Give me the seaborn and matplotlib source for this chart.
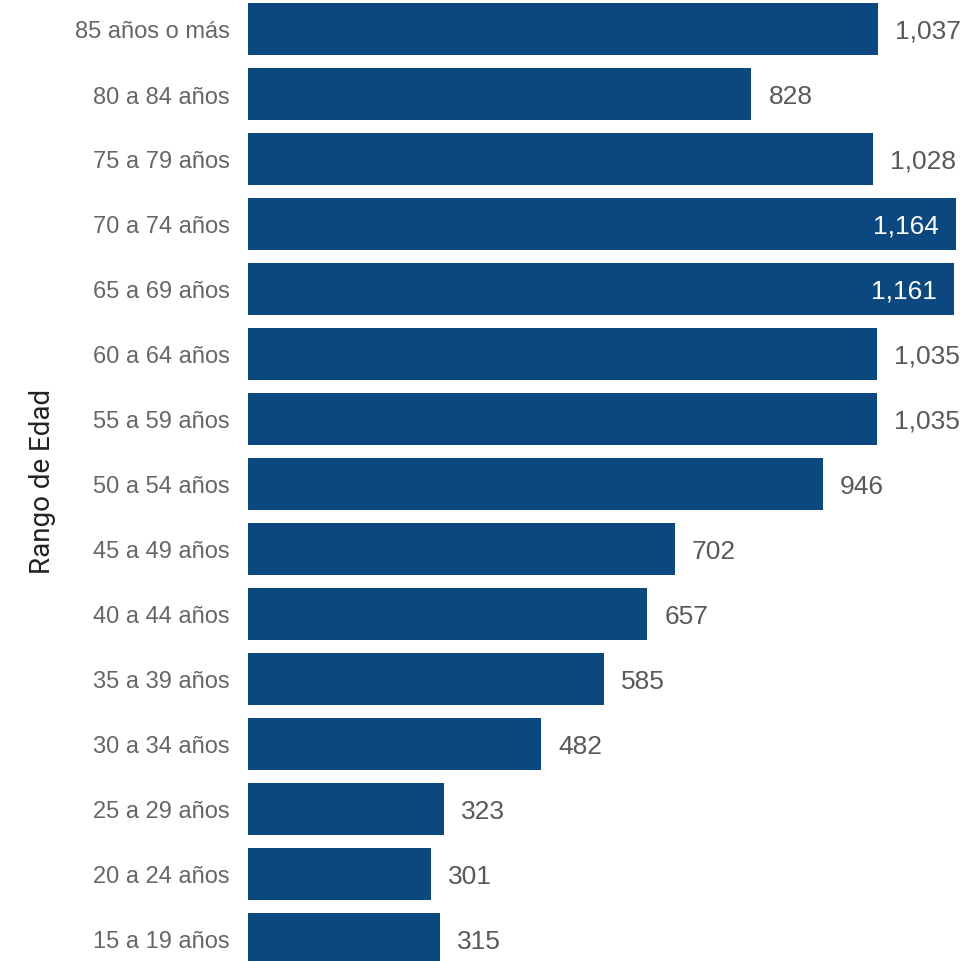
import matplotlib
matplotlib.use("Agg")
import matplotlib.pyplot as plt
import seaborn as sns
import pandas as pd

# Datos (de arriba a abajo)
rangos = ["85 años o más", "80 a 84 años", "75 a 79 años", "70 a 74 años",
          "65 a 69 años", "60 a 64 años", "55 a 59 años", "50 a 54 años",
          "45 a 49 años", "40 a 44 años", "35 a 39 años", "30 a 34 años",
          "25 a 29 años", "20 a 24 años", "15 a 19 años"]
valores = [1037, 828, 1028, 1164, 1161, 1035, 1035, 946, 702, 657, 585, 482,
           323, 301, 315]

df = pd.DataFrame({"rango": rangos, "valor": valores})

sns.set_style("white")
plt.rcParams["font.family"] = ["Liberation Sans", "DejaVu Sans"]

fig = plt.figure(figsize=(9.66, 9.62), dpi=100)
ax = fig.add_axes([248 / 966, 0, 718 / 966, 1])

sns.barplot(data=df, x="valor", y="rango", orient="h", color="#0B487F",
            saturation=1, width=0.8, linewidth=0, ax=ax)

ax.set_xlim(0, 718 / 0.608)
ax.set_ylim((962 - 30) / 65, -30 / 65)

for i, v in enumerate(valores):
    texto = f"{v:,}"
    if v > 1100:
        ax.annotate(texto, (v, i), xytext=(-17, -2), textcoords="offset pixels",
                    ha="right", va="center", color="white", fontsize=19)
    else:
        ax.annotate(texto, (v, i), xytext=(17, -2), textcoords="offset pixels",
                    ha="left", va="center", color="#595959", fontsize=19)

ax.set_xlabel("")
ax.set_xticks([])
ax.set_ylabel("Rango de Edad", fontsize=20, color="#222222",
              family=["Roboto", "DejaVu Sans"], labelpad=14)
ax.tick_params(axis="y", length=0, labelsize=17, labelcolor="#666666", pad=13)
sns.despine(ax=ax, left=True, bottom=True)

fig.savefig("out.png", dpi=100)
